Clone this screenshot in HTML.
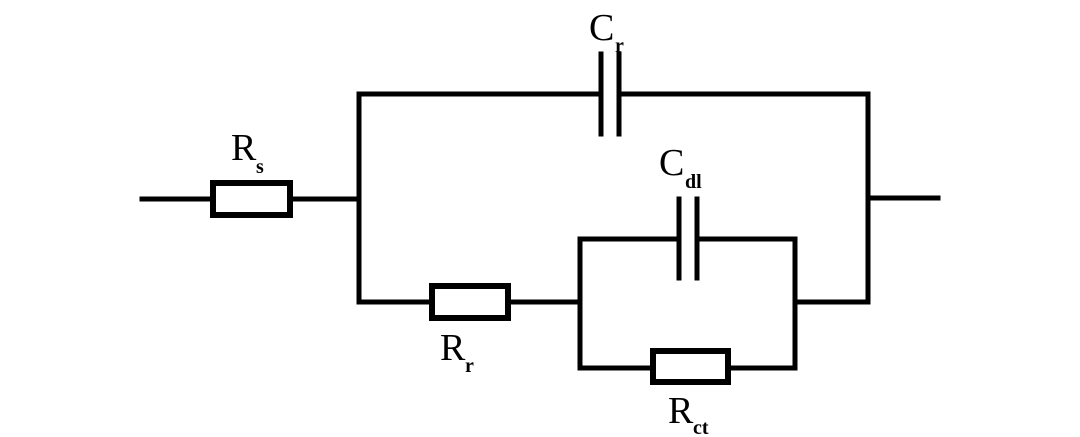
<!DOCTYPE html>
<html><head><style>body{margin:0;background:#fff}svg{display:block}</style></head><body>
<svg width="1080" height="437" viewBox="0 0 1080 437" xmlns="http://www.w3.org/2000/svg">
<g stroke="#000" stroke-width="5" fill="none" stroke-linecap="square">
<path d="M142 199H212M291 199H359M359 94V302H431M509 302H580M359 94H601M619 94H868V302H795M868 198H938"/>
<path d="M580 239V368H652M728 368H795V239H697M679 239H580"/>
<path d="M601 54V134M619 54V134M679 199V278M697 199V278"/>
<rect x="213" y="183" width="77" height="32" stroke-width="6"/>
<rect x="432" y="286" width="76" height="32" stroke-width="6"/>
<rect x="653" y="351" width="75" height="31" stroke-width="6"/>
</g>
<g font-family="Liberation Serif, serif" fill="#000">
<text x="231" y="160" font-size="38">R</text><text x="256" y="173" font-size="20" font-weight="bold">s</text>
<text x="589" y="40" font-size="38">C</text><text x="615" y="52" font-size="20" font-weight="bold">r</text>
<text x="659" y="175" font-size="38">C</text><text x="685" y="188" font-size="20" font-weight="bold">dl</text>
<text x="440" y="360" font-size="38">R</text><text x="465" y="372" font-size="20" font-weight="bold">r</text>
<text x="668" y="423" font-size="38">R</text><text x="693" y="434" font-size="20" font-weight="bold">ct</text>
</g>
</svg>
</body></html>
